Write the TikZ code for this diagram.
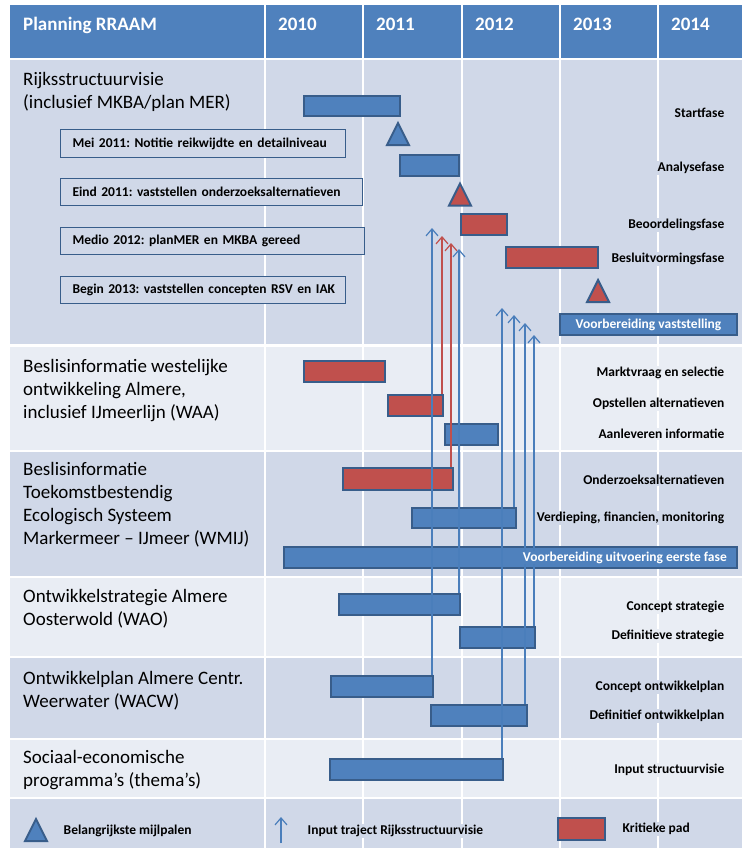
\documentclass[tikz,border=0pt]{standalone}
\usepackage{fontspec}
\setmainfont{Carlito}
\usetikzlibrary{arrows.meta}
\usetikzlibrary{calc}
\definecolor{kopblauw}{HTML}{4F81BD}
\definecolor{rijdonker}{HTML}{D0D8E8}
\definecolor{rijlicht}{HTML}{E9EDF4}
\definecolor{balkblauw}{HTML}{4F81BD}
\definecolor{balkrood}{HTML}{C0504D}
\definecolor{randblauw}{HTML}{385D8A}
\definecolor{pijlblauw}{HTML}{4A7EBB}
\frenchspacing

\begin{document}
\begin{tikzpicture}[x=1pt,y=-1pt,
  balk/.style={draw=randblauw,line width=2pt,inner sep=0pt},
  fase/.style={anchor=east,inner sep=1.5pt,font=\fontsize{13.5}{15}\selectfont\bfseries},
  mijlbox/.style={anchor=west,draw=randblauw,line width=1pt,fill=rijdonker,minimum height=27pt,
    inner xsep=12pt,align=left,font=\fontsize{13.5}{15}\selectfont\bfseries},
  rij/.style={anchor=north west,inner sep=0pt,align=left,font=\fontsize{19}{23}\selectfont},
  kop/.style={anchor=base west,inner sep=0pt,text=white,font=\fontsize{19}{23}\selectfont\bfseries},
  legenda/.style={anchor=west,inner sep=1.5pt,fill=rijdonker,font=\fontsize{13.5}{15}\selectfont\bfseries},
  invoer/.style={draw=pijlblauw,line width=1.2pt,-{Straight Barb[length=7pt,width=12pt]}}]
  \useasboundingbox (0,0) rectangle (744,848);
  \fill [white] (0,0) rectangle (744,848);
  %% rijen en kolommen
  \fill [kopblauw] (10,5) rectangle (742,58);
  \foreach \t/\b/\c in {60/344/rijdonker, 347/450/rijlicht, 452/576/rijdonker, 578/656/rijlicht,
                        658/738/rijdonker, 740/797/rijlicht, 799/848/rijdonker}
    \fill [fill=\c] (10,\t) rectangle (742,\b);
  \foreach \x in {265,363,462,560,658}
    \draw [white,line width=1.5pt] (\x,5) -- (\x,848);
  %% kop
  \node [kop] (kplan) at (23,31) {Planning RRAAM};
  \foreach \x/\j in {278/2010, 376/2011, 475/2012, 573/2013, 671/2014}
    \node [kop] (k\j) at (\x,31) {\j};
  %% projecten
  \foreach \n/\y/\t in {rsv/72/{Rijksstructuurvisie\\(inclusief MKBA/plan MER)},
      waa/359/{Beslisinformatie westelijke\\ontwikkeling Almere,\\inclusief IJmeerlijn (WAA)},
      wmij/462/{Beslisinformatie\\Toekomstbestendig\\Ecologisch Systeem\\Markermeer – IJmeer (WMIJ)},
      wao/589/{Ontwikkelstrategie Almere\\Oosterwold (WAO)},
      wacw/671/{Ontwikkelplan Almere Centr.\\Weerwater (WACW)},
      soc/750/{Sociaal-economische\\programma’s (thema’s)}}
    \node [rij] (r\n) at (23,\y) {\t};
  %% mijlpalen
  \foreach \n/\w/\y/\t in {mei/285/143.5/{Mei 2011: Notitie reikwijdte en detailniveau},
      eind/302/191.5/{Eind 2011: vaststellen onderzoeksalternatieven},
      medio/304/240.5/{Medio 2012: planMER en MKBA gereed},
      begin/285/289.5/{Begin 2013: vaststellen concepten RSV en IAK}}
    \node [mijlbox,text width={(\w-24)*1pt}] (\n) at (60,\y) {\mbox{\t}};
  \foreach \x/\y/\c in {398/134/balkblauw, 460/194.5/balkrood, 598/291/balkrood, 36/830/balkblauw}
    \filldraw [fill=\c,draw=randblauw,line width=2pt] (\x-11,\y+11) -- (\x,\y-11) -- (\x+11,\y+11) -- cycle;
  %% balken
  \foreach \n/\a/\b/\c/\d/\f in {start/304/400/96/116/balkblauw, analyse/400/459/155/176/balkblauw,
      beoordeling/461/507/214/235/balkrood, besluit/506/598/247/268/balkrood,
      vaststelling/560/737/314/335/balkblauw,
      markt/304/385/361/382/balkrood, opstellen/388/443/395/416/balkrood,
      aanleveren/445/498/424/445/balkblauw,
      onderzoek/343/453/468/490/balkrood, verdieping/412/516/508/528/balkblauw,
      uitvoering/284/737/547/568/balkblauw,
      concstrat/339/460/594/615/balkblauw, defstrat/460/535/627/648/balkblauw,
      concplan/331/433/676/697/balkblauw, defplan/431/527/705/726/balkblauw,
      input/330/503/759/780/balkblauw}
    \node [balk,fill=\f,minimum width={(\b-\a)*1pt},minimum height={(\d-\c)*1pt}]
      (\n) at ({(\a+\b)/2},{(\c+\d)/2}) {};
  \node [text=white,font=\fontsize{13.5}{15}\selectfont\bfseries] (tvast) at (vaststelling) {Voorbereiding vaststelling};
  %% fasen
  \foreach \n/\y/\t/\f in {start/113/Startfase/rijdonker, analyse/168/Analysefase/rijdonker,
      beoordeling/225/Beoordelingsfase/rijdonker, besluit/259/Besluitvormingsfase/rijdonker,
      markt/373/Marktvraag en selectie/rijlicht, opstellen/404/Opstellen alternatieven/rijlicht,
      aanleveren/434/Aanleveren informatie/rijlicht,
      onderzoek/480/Onderzoeksalternatieven/rijdonker,
      verdieping/518/{Verdieping, financien, monitoring}/rijdonker,
      concstrat/607/Concept strategie/rijlicht, defstrat/636/Definitieve strategie/rijlicht,
      concplan/687/Concept ontwikkelplan/rijdonker, defplan/716/Definitief ontwikkelplan/rijdonker,
      input/770/Input structuurvisie/rijlicht}
    \node [fase,fill=\f] (l\n) at (726,\y) {\t};
  %% input pijlen
  \foreach \b/\x/\y/\c in {concplan/432/228/pijlblauw, opstellen/442/236/balkrood,
      onderzoek/451/243/balkrood, concstrat/459/249/pijlblauw,
      input/502/308/pijlblauw, verdieping/514/315/pijlblauw,
      defplan/525/323/pijlblauw, defstrat/534/335/pijlblauw}
  {
    \coordinate (p\b) at (\x,\y);
    \draw [invoer,draw=\c] (\b.north -| p\b) -- (p\b);
  }
  \node [fill=balkblauw,inner sep=1pt,text=white,anchor=east,font=\fontsize{13.5}{15}\selectfont\bfseries]
    (tuit) at ($(uitvoering.east)+(-10,0)$) {Voorbereiding uitvoering eerste fase};
  %% legenda
  \node [legenda] (lmijl) at (62,831) {Belangrijkste mijlpalen};
  \coordinate (lvan) at (281,843);
  \coordinate (lnaar) at (281,817);
  \draw [invoer] (lvan) -- (lnaar);
  \node [legenda] (linvoer) at (306,831) {Input traject Rijksstructuurvisie};
  \node [balk,fill=balkrood,minimum width=47pt,minimum height=22pt] (lkritiek) at (581.5,829) {};
  \node [legenda] (lkrit) at (621,829) {Kritieke pad};
\end{tikzpicture}
\end{document}
